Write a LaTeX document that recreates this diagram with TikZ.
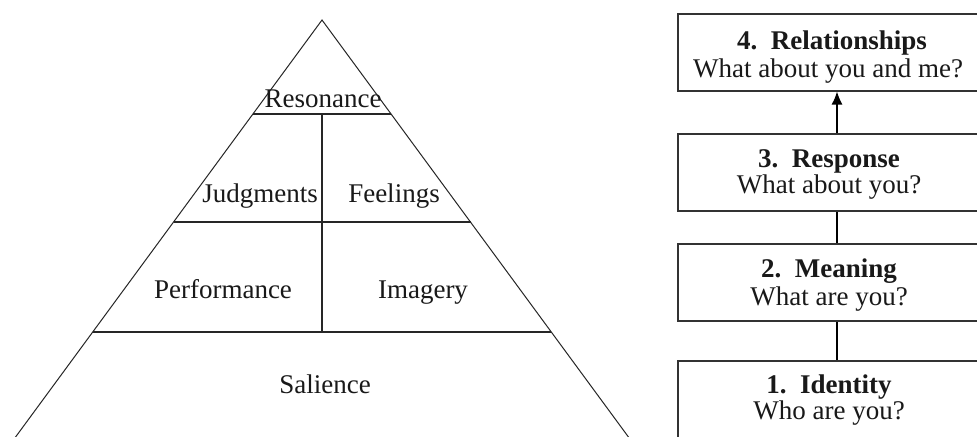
\documentclass[tikz,border=0pt]{standalone}
\usepackage{fontspec}
\setmainfont{Liberation Serif}
\usetikzlibrary{arrows.meta}
\begin{document}
\begin{tikzpicture}[x=0.5pt,y=-0.5pt,
  font=\fontsize{13.5}{14}\selectfont,
  pyrside/.style={draw=black!85,line width=0.5pt},
  pyrsep/.style={draw=black!85,line width=1pt},
  pyrdiv/.style={draw=black!85,line width=0.6pt},
  lbl/.style={inner sep=0pt,anchor=base,text=black!90},
  levelbox/.style={draw=black!80,line width=1pt,fill=white,minimum width=151.5pt,minimum height=38.5pt,inner sep=0pt},
  link/.style={draw=black,line width=0.7pt}
]
\useasboundingbox (0,0) rectangle (977,436);
\clip (0,0) rectangle (977,436);
\fill[white] (0,0) rectangle (977,436);
% pyramid
\coordinate (apex) at (322,20);
\coordinate (bl) at (6,450);
\coordinate (br) at (638,450);
\draw[pyrside] (bl) -- (apex) -- (br);
\coordinate (r1) at (253,114); \coordinate (r2) at (391,114);
\coordinate (j1) at (173.5,222); \coordinate (j2) at (470.5,222);
\coordinate (p1) at (92.7,332); \coordinate (p2) at (551.3,332);
\coordinate (vtop) at (322,114); \coordinate (vbot) at (322,332);
\draw[pyrsep] (r1) -- (r2);
\draw[pyrsep] (j1) -- (j2);
\draw[pyrsep] (p1) -- (p2);
\draw[pyrdiv] (vtop) -- (vbot);
\node[lbl] (res) at (323,107) {Resonance};
\node[lbl] (jud) at (260,202) {Judgments};
\node[lbl] (fee) at (394,202) {Feelings};
\node[lbl] (per) at (223,298) {Performance};
\node[lbl] (ima) at (423,298) {Imagery};
\node[lbl] (sal) at (325,393) {Salience};
% boxes
\node[levelbox] (b4) at (829,52) {};
\node[levelbox] (b3) at (829,172) {};
\node[levelbox] (b2) at (829,282) {};
\node[levelbox,minimum height=60pt] (b1) at (829,421) {};
\coordinate (cx) at (837,0);
\draw[link,-{Latex[length=6.5pt,width=5.5pt]}] (b3.north -| cx) -- (b4.south -| cx);
\draw[link] (b2.north -| cx) -- (b3.south -| cx);
\draw[link] (b1.north -| cx) -- (b2.south -| cx);
\node[lbl] (h4) at (832,49) {\textbf{4.\ \ Relationships}};
\node[lbl] (s4) at (828,77) {What about you and me?};
\node[lbl] (h3) at (829,167) {\textbf{3.\ \ Response}};
\node[lbl] (s3) at (829,193) {What about you?};
\node[lbl] (h2) at (829,277) {\textbf{2.\ \ Meaning}};
\node[lbl] (s2) at (829,305) {What are you?};
\node[lbl] (h1) at (829,393) {\textbf{1.\ \ Identity}};
\node[lbl] (s1) at (829,419) {Who are you?};
\end{tikzpicture}
\end{document}
